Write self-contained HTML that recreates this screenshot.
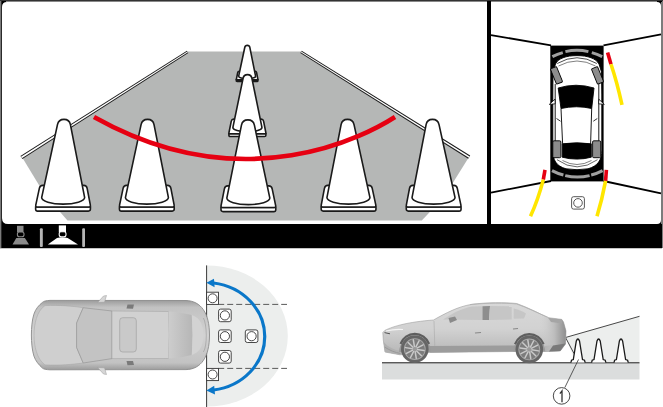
<!DOCTYPE html>
<html><head><meta charset="utf-8"><title>Rear parking camera</title>
<style>
html,body{margin:0;padding:0;background:#fff;width:663px;height:407px;overflow:hidden;font-family:"Liberation Sans",sans-serif}
svg{display:block;position:absolute;left:0;top:0}
</style></head><body>
<svg width="663" height="407" viewBox="0 0 663 407">
<defs>
  <g id="cone" fill="#fff" stroke="#1a1a1a" stroke-width="1.6">
    <path d="M-27.4,87.6 L27.4,87.6 L27.4,89.7 Q27.4,91.7 25.4,91.7 L-25.4,91.7 Q-27.4,91.7 -27.4,89.7 Z" vector-effect="non-scaling-stroke"/>
    <path d="M-20.5,66 L20.5,66 Q23.3,66 23.9,69 L27.3,85.8 Q27.6,87.6 25.6,87.6 L-25.6,87.6 Q-27.6,87.6 -27.3,85.8 L-23.9,69 Q-23.3,66 -20.5,66 Z" vector-effect="non-scaling-stroke"/>
    <path d="M-21.5,78.2 L-6.47,5.27 A6.6,6.6 0 0 1 6.47,5.27 L21.5,78.2 A21.5,6.5 0 0 1 -21.5,78.2 Z" vector-effect="non-scaling-stroke"/>
  </g>
  <g id="sqcone">
    <rect x="-6.3" y="-6.3" width="12.6" height="12.6" rx="2" fill="#fff" stroke="#333" stroke-width="0.9"/>
    <circle cx="0" cy="0" r="4.6" fill="#fff" stroke="#333" stroke-width="0.9"/>
  </g>
  <linearGradient id="carTop" x1="0" y1="0" x2="0" y2="1">
    <stop offset="0" stop-color="#9c9c9c"/>
    <stop offset="0.1" stop-color="#c2c2c2"/>
    <stop offset="0.5" stop-color="#d2d2d2"/>
    <stop offset="0.9" stop-color="#c2c2c2"/>
    <stop offset="1" stop-color="#9c9c9c"/>
  </linearGradient>
  <linearGradient id="rearWin" x1="0" y1="0" x2="1" y2="0">
    <stop offset="0" stop-color="#cdcdcd"/>
    <stop offset="1" stop-color="#b6b6b6"/>
  </linearGradient>
  <linearGradient id="rearShade" x1="0" y1="0" x2="1" y2="0">
    <stop offset="0" stop-color="#cfcfcf" stop-opacity="0"/>
    <stop offset="0.55" stop-color="#bdbdbd"/>
    <stop offset="1" stop-color="#8e8e8e"/>
  </linearGradient>
  <linearGradient id="carSide" x1="0" y1="0" x2="0" y2="1">
    <stop offset="0" stop-color="#d8d8d8"/>
    <stop offset="0.5" stop-color="#d2d2d2"/>
    <stop offset="1" stop-color="#b5b5b5"/>
  </linearGradient>
</defs>

<!-- ===== TOP MONITOR FRAME ===== -->
<rect x="0" y="0" width="662" height="248" fill="#000"/>
<rect x="0" y="248" width="662" height="1" fill="#c4c4c4"/>
<rect x="662" y="0" width="1" height="248" fill="#7c7c7c"/>
<rect x="661" y="2" width="1" height="222" fill="#7c7c7c"/>
<rect x="0" y="0" width="1" height="248" fill="#7a7a7a"/>
<rect x="1" y="1" width="1" height="247" fill="#2a2a2a"/>
<rect x="0" y="0" width="663" height="1" fill="#333"/>
<rect x="6" y="1" width="481" height="1" fill="#888"/>
<rect x="491" y="1" width="166" height="1" fill="#888"/>
<!-- left camera view -->
<path d="M2,7 Q2,2 7,2 L487,2 L487,224 L8,224 Q2,224 2,218 Z" fill="#fff"/>
<!-- right top view -->
<path d="M491,2 L657,2 Q661,2 661,6 L661,220 Q661,224 657,224 L491,224 Z" fill="#fff"/>

<!-- road -->
<polygon points="188.2,51.4 300.6,51.4 468.7,157.4 444,197 421.8,220.4 67.5,220.4 44.4,193.9 22.4,157.8" fill="#b5b7b6"/>
<!-- curbs -->
<polygon points="186.88,50.76 20.41,155.94 22.39,159.06 188.32,53.04" fill="#1c1c1c"/>
<polygon points="187.33,51.48 20.97,156.82 21.83,158.18 187.87,52.32" fill="#fff"/>
<polygon points="300.28,53.04 468.22,158.67 470.18,155.53 301.72,50.76" fill="#1c1c1c"/>
<polygon points="300.73,52.32 468.78,157.78 469.62,156.42 301.27,51.48" fill="#fff"/>

<!-- cones: back to front -->
<use href="#cone" transform="matrix(0.393,0,-0.0022,0.393,247.3,45.4)"/>
<use href="#cone" transform="matrix(0.675,0,-0.0011,0.675,247.5,74.6)"/>
<use href="#cone" transform="matrix(1.0,0,-0.0109,1.0,64.0,119.4)"/>
<use href="#cone" transform="matrix(1.0,0,-0.0087,1.0,147.6,119.4)"/>
<use href="#cone" transform="matrix(1.0,0,0.0055,1.0,247.9,119.9)"/>
<use href="#cone" transform="matrix(1.0,0,0.0120,1.0,347.5,119.4)"/>
<use href="#cone" transform="matrix(1.0,0,0.0131,1.0,432.5,119.4)"/>

<!-- red guide arc -->
<path d="M94,117 C245.8,202.2 368.6,134 395,117" fill="none" stroke="#e60012" stroke-width="4.6"/>

<!-- bottom bar icons -->
<g>
  <rect x="17" y="225.8" width="6.5" height="6.6" fill="#8a8a8a"/>
  <rect x="17.4" y="232" width="6.6" height="4.8" rx="2" fill="#000" stroke="#8a8a8a" stroke-width="1.1"/>
  <polygon points="16.3,238 24.9,238 29,244.6 12.5,244.6" fill="#8a8a8a"/>
  <rect x="39.9" y="228.3" width="2.9" height="18.8" rx="1" fill="#b5b5b5"/>
  <rect x="58.8" y="225.4" width="7.2" height="6.9" fill="#fff"/>
  <rect x="59.2" y="231.8" width="6.8" height="4.9" rx="2" fill="#000" stroke="#fff" stroke-width="1.1"/>
  <path d="M57,238 Q62.3,236.5 67.7,238 L78,244.6 L47.8,244.6 Z" fill="#fff"/>
  <rect x="82.2" y="228.2" width="2.8" height="18.9" rx="1" fill="#b5b5b5"/>
</g>

<!-- right panel: top view -->
<g stroke="#000" stroke-width="1.8" fill="none">
  <line x1="491" y1="35.1" x2="551" y2="45.3"/>
  <line x1="603.5" y1="45.3" x2="661" y2="34.4"/>
  <line x1="551" y1="181" x2="491" y2="192.6"/>
  <line x1="603.5" y1="181" x2="661" y2="193.4"/>
</g>
<rect x="550.3" y="45.6" width="53.3" height="135.8" fill="#000"/>
<!-- sensor arcs -->
<g fill="none" stroke="#a0a0a0" stroke-width="3">
  <path d="M552.4,56.6 A50,50 0 0 1 562.8,52.6"/>
  <path d="M565.4,51.6 A50,50 0 0 1 588.4,51.6"/>
  <path d="M591.8,52.6 A50,50 0 0 1 602.2,56.6"/>
  <path d="M552,170.6 A52,52 0 0 0 563.4,175"/>
  <path d="M565.2,175.6 A52,52 0 0 0 589.6,175.6"/>
  <path d="M591.2,175 A52,52 0 0 0 602.6,170.6"/>
</g>
<!-- car top view (white) -->
<g stroke="#000" stroke-width="0.9">
  <path d="M577,55.6 C566,55.6 558,58.5 555.5,64 L553,72 L552.8,95 L552.8,150 C552.8,160 556,166 566,168.8 Q577,170.6 588,168.8 C598,166 601.8,160 601.8,150 L601.8,95 L601.5,72 L599,64 C596,58.5 588,55.6 577,55.6 Z" fill="#fff"/>
  <path d="M557.2,63.5 Q577,52 596.8,63.5" fill="none" stroke-width="0.7"/>
  <path d="M558.5,66 Q577,56 595.5,66" fill="none" stroke-width="0.5"/>
  <!-- windshield -->
  <path d="M558.2,88 Q576,82.5 594,88 L591.7,108.5 Q576.5,105 561,108.5 Z" fill="#000"/>
  <!-- rear window -->
  <path d="M562.2,143.8 Q577,141.8 591.3,143.8 L591.3,157.2 Q577,161 562.2,157.2 Z" fill="#000"/>
  <!-- pillar lines -->
  <path d="M561,108.5 L562.6,143.8 M591.7,108.5 L590.6,143.8" fill="none" stroke-width="0.9"/>
  <path d="M555.2,84 L555.2,141 M598.8,84 L598.8,141" fill="none" stroke-width="0.9"/>
  <path d="M557,159.7 Q577,174 597.5,159.7" fill="none" stroke-width="0.6"/>
  <path d="M562.5,160.5 Q577,168.5 591.5,160.5" fill="none" stroke-width="0.5"/>
  <path d="M556.5,118.5 L560.5,121.2 M597.3,118.5 L593.3,121.2" fill="none" stroke-width="0.8"/>
  <!-- mirrors -->
  <path d="M555,99.2 L549.3,104.4 L555.2,103.8 Z" fill="#fff" stroke-width="0.8"/>
  <path d="M598.8,99.2 L604.3,104.4 L598.6,103.8 Z" fill="#fff" stroke-width="0.8"/>
  <!-- wheels -->
  <rect x="-3.3" y="-8.3" width="6.6" height="16.6" rx="1" fill="#8c8c8c" transform="translate(556.5,75.4) rotate(-22)"/>
  <rect x="-3.3" y="-8.3" width="6.6" height="16.6" rx="1" fill="#8c8c8c" transform="translate(597.5,75.4) rotate(-22)"/>
  <rect x="552.8" y="140.8" width="8.1" height="16.9" rx="1.2" fill="#8c8c8c"/>
  <rect x="592.6" y="140.8" width="8.1" height="16.9" rx="1.2" fill="#8c8c8c"/>
</g>
<!-- guide lines -->
<g fill="none" stroke-width="3.6" stroke-linecap="butt">
  <path d="M607.6,52.4 L611,64.2" stroke="#e60012"/>
  <path d="M611,64.2 Q617,82 622,104.9" stroke="#ffe600"/>
  <path d="M545,169.9 L543.3,179.6" stroke="#e60012"/>
  <path d="M543.3,179.6 Q538,200 530.5,216.2" stroke="#ffe600"/>
  <path d="M606.4,169.9 L605.6,180.9" stroke="#e60012"/>
  <path d="M605.6,180.9 Q602,200 597,216.2" stroke="#ffe600"/>
</g>
<rect x="571.6" y="196.7" width="12.8" height="12.4" rx="2" fill="#fff" stroke="#444" stroke-width="0.9"/>
<circle cx="578" cy="202.9" r="4.3" fill="#fff" stroke="#444" stroke-width="0.9"/>

<!-- ===== BOTTOM LEFT DIAGRAM ===== -->
<path d="M206.6,265.4 A81.2,70.6 0 0 1 206.6,406.6 Z" fill="#eceeed"/>
<line x1="206.6" y1="265.4" x2="206.6" y2="407" stroke="#3a3a3a" stroke-width="1"/>
<g stroke="#5a5a5a" stroke-width="1" stroke-dasharray="6 3">
  <line x1="218.2" y1="304.4" x2="287" y2="304.4"/>
  <line x1="218.2" y1="368.4" x2="287" y2="368.4"/>
</g>
<g fill="#fff" stroke="#333" stroke-width="0.9">
  <rect x="206.6" y="292.2" width="11.9" height="12.2"/>
  <circle cx="212.6" cy="298.3" r="4.5"/>
  <rect x="206.6" y="368.4" width="11.9" height="12.2"/>
  <circle cx="212.6" cy="374.5" r="4.5"/>
</g>
<use href="#sqcone" transform="translate(224.9,315.4)"/>
<use href="#sqcone" transform="translate(224.9,336.2)"/>
<use href="#sqcone" transform="translate(251.6,336.2)"/>
<use href="#sqcone" transform="translate(224.9,356.8)"/>
<!-- blue arc -->
<path d="M213.5,283 A59.3,54 0 0 1 213.5,390" fill="none" stroke="#0a77c9" stroke-width="3.2"/>
<polygon points="206.4,282.7 214,278.8 214.6,287.2" fill="#0a77c9"/>
<polygon points="206.4,390.4 214.2,385.8 215,394.4" fill="#0a77c9"/>

<!-- top-view car (grey) -->
<g>
  <path d="M50,300.4 L186,300.5 C201,301 209.5,313 209.5,335 C209.5,357 201,369.3 186,369.6 L50,369.8 C46,369.7 43.5,369 42.7,368.3 C39,365 35.5,361 33.9,356 C32,350 31.4,342 31.4,335 C31.4,328 32,320 33.9,314.2 C35.5,309 39,305 42.7,302.2 C43.5,301.3 46,300.5 50,300.4 Z" fill="url(#carTop)" stroke="#8a8a8a" stroke-width="0.9"/>
  <!-- hood -->
  <path d="M45,305.6 C60,305 72,306 83.2,307.7 L76.6,323 L76.6,347.5 L83.2,363 C72,364.5 60,365.5 45,364.9 C36.5,359 34,345 34,335.2 C34,325 36.5,311 45,305.6 Z" fill="#cfcfcf" stroke="#a3a3a3" stroke-width="0.5"/>
  <!-- windshield -->
  <path d="M83.2,307.7 L112,311 L112,358.6 L83.2,363 L76.6,347.5 L76.6,323 Z" fill="#c3c3c3" stroke="#8e8e8e" stroke-width="0.6"/>
  <!-- roof -->
  <path d="M112,311 L168.5,311.5 Q170,335 168.5,358.5 L112,358.6 Z" fill="#d1d1d1" stroke="#a0a0a0" stroke-width="0.5"/>
  <rect x="119.7" y="317.7" width="16.6" height="34.3" rx="3" fill="#c9c9c9" stroke="#9a9a9a" stroke-width="0.6"/>
  <!-- rear window -->
  <path d="M168.5,311.5 C178,312 186,313.5 191.8,315 Q193.5,335 191.8,355 C186,356.5 178,358 168.5,358.5 Q170,335 168.5,311.5 Z" fill="url(#rearWin)"/>
  <!-- trunk -->
  <path d="M191.8,315 C198,317 203.4,322 203.4,335 C203.4,348 198,353 191.8,355 Q193.5,335 191.8,315 Z" fill="#d3d3d3"/>
  <path d="M203.4,318 C207,324 207.5,346 203.4,352" fill="none" stroke="#999" stroke-width="0.6"/>
  <!-- pillar shadows -->
  <path d="M127.5,304.4 L134,304.6 L133,308.8 L126.5,308.6 Z" fill="#7a7a7a"/>
  <path d="M127.5,365.3 L134,365.1 L133,360.9 L126.5,361.1 Z" fill="#7a7a7a"/>
  <!-- mirrors -->
  <path d="M97.6,302.5 L103.5,296 L106.5,295.5 L104.5,302.2 Z" fill="#d6d6d6" stroke="#9a9a9a" stroke-width="0.5"/>
  <path d="M97.6,367.5 L103.5,374 L106.5,374.5 L104.5,367.8 Z" fill="#d6d6d6" stroke="#9a9a9a" stroke-width="0.5"/>
</g>

<!-- ===== BOTTOM RIGHT SIDE VIEW ===== -->
<polygon points="565.5,337.5 639.5,316.3 639.5,362.5 576,362.5" fill="#eceeed"/>
<rect x="382" y="363.5" width="257.5" height="16" fill="#dbdddd"/>
<line x1="382" y1="362.8" x2="639.5" y2="362.8" stroke="#5a5a5a" stroke-width="1.5"/>
<line x1="565.5" y1="337.5" x2="639.5" y2="316.3" stroke="#333" stroke-width="0.9"/>
<line x1="565.5" y1="337.5" x2="574" y2="353.5" stroke="#333" stroke-width="0.9"/>
<!-- side cones -->
<g fill="#fff" stroke="#1a1a1a" stroke-width="1.3">
  <path d="M570.9,362.6 L571.5,360.2 L573.3,359.6 L576.3,341 Q577.9,337 579.5,341 L582.5,359.6 L584.5,360.2 L585.2,362.6"/>
  <path d="M591.6,362.6 L592.2,360.2 L594,359.6 L597,341 Q598.6,337 600.2,341 L603.2,359.6 L605.2,360.2 L605.9,362.6"/>
  <path d="M614,362.6 L614.6,360.2 L616.4,359.6 L619.4,341 Q621,337 622.6,341 L625.6,359.6 L627.6,360.2 L628.3,362.6"/>
</g>
<!-- callout -->
<line x1="564.8" y1="387.6" x2="578.5" y2="359.5" stroke="#333" stroke-width="0.8"/>
<circle cx="561.6" cy="395.9" r="8.3" fill="#fff" stroke="#333" stroke-width="0.9"/>
<path d="M559.9,393.6 L562,390.9 L562,402.2" fill="none" stroke="#333" stroke-width="1.3" stroke-linejoin="miter"/>

<!-- side-view car -->
<g>
  <!-- body -->
  <path d="M385,352 L383.3,340 L382.8,332.5 L385,330.3 C394,326 408,322 433.5,320 C446,313 458,306.5 472,304.3 C487,302.3 505,302.3 516.7,303.5 C528,307.5 538,313 548.5,317.7 L561.8,319.4 L563.5,322 L566,331 L565.5,344 L560.2,351 L545,351.5 L513,351.5 L430,352.5 L400,354.8 Z" fill="url(#carSide)" stroke="#a0a0a0" stroke-width="0.6"/>
  <!-- lower body darker -->
  <path d="M430,346 L515,345.5 L515,351.5 L430,352.5 Z" fill="#9c9c9c"/>
  <path d="M383.5,342 C388,347 394,350 401,351 L400,354.8 L385,352 Z" fill="#b0b0b0"/>
  <path d="M545,346 L560.5,344 L565.5,344 L560.2,351 L545,351.5 Z" fill="#a8a8a8"/>
  <!-- windows -->
  <path d="M443,319.5 C453,313 462,308.5 472,306.5 L482.5,306.3 L482.5,320 Z" fill="#c6c6c6"/>
  <path d="M482.5,306.3 L490,306 L489,320 L482.5,320 Z" fill="#8e8e8e"/>
  <path d="M490,306 L511.7,306.2 L511.7,319.4 L489,320 Z" fill="#c6c6c6"/>
  <path d="M513.7,308.5 C519,309.5 523,311.5 526,313.5 L524,318.5 L513.7,318.8 Z" fill="#c6c6c6"/>
  <path d="M470,304.6 C487,302.8 505,302.8 516.7,304 C528,308 538,313 548.5,317.7" fill="none" stroke="#b0b0b0" stroke-width="0.8"/>
  <!-- mirror -->
  <path d="M448.5,318 L455,316.4 L457,320 L450,323 Z" fill="#8a8a8a"/>
  <!-- rear quarter shading -->
  <path d="M540,315.5 L548.5,317.7 L561.8,319.4 L563.5,322 L566,331 L565.5,344 L560.2,351 L545,351.5 L540,351.5 Z" fill="url(#rearShade)"/>
  <path d="M553,345.5 L565.5,343.5 L560.2,351 L549,351.5 Z" fill="#7a7a7a"/>
  <path d="M384.5,332.6 L390,333.8" stroke="#555" stroke-width="1" fill="none"/>
  <path d="M384.5,347 C390,350.5 395,352.5 400.5,353.5" stroke="#999" stroke-width="1" fill="none"/>
  <!-- spoiler / tail -->
  <path d="M548,317.7 L561.8,319.4 L562,323.5 L551,322 Z" fill="#a5a5a5"/>
  <!-- wheel arches -->
  <path d="M399.1,352 A15.9,15.9 0 0 1 430.9,352 Z" fill="#9a9a9a"/>
  <path d="M513.4,351.5 A15.9,15.9 0 0 1 545.2,351.5 Z" fill="#9a9a9a"/>
  <path d="M400.52,343.90 A15.2,15.2 0 0 1 429.08,343.90" fill="none" stroke="#5e5e5e" stroke-width="2.2"/>
  <path d="M515.02,344.20 A15.2,15.2 0 0 1 543.58,344.20" fill="none" stroke="#5e5e5e" stroke-width="2.2"/>
  <!-- wheels -->
  <g>
    <circle cx="414.8" cy="349.1" r="13.8" fill="#656565"/>
    <circle cx="414.8" cy="349.1" r="10.9" fill="#a9a9a9"/>
    <circle cx="414.8" cy="349.1" r="10.0" fill="#7c7c7c"/>
    <g stroke="#c9c9c9" stroke-width="1.5" stroke-linecap="round">
      <line x1="416.97" y1="349.44" x2="424.08" y2="350.57"/>
      <line x1="416.36" y1="350.66" x2="421.45" y2="355.75"/>
      <line x1="415.14" y1="351.27" x2="416.27" y2="358.38"/>
      <line x1="413.80" y1="351.06" x2="410.53" y2="357.48"/>
      <line x1="412.84" y1="350.10" x2="406.42" y2="353.37"/>
      <line x1="412.63" y1="348.76" x2="405.52" y2="347.63"/>
      <line x1="413.24" y1="347.54" x2="408.15" y2="342.45"/>
      <line x1="414.46" y1="346.93" x2="413.33" y2="339.82"/>
      <line x1="415.80" y1="347.14" x2="419.07" y2="340.72"/>
      <line x1="416.76" y1="348.10" x2="423.18" y2="344.83"/>
    </g>
    <circle cx="414.8" cy="349.1" r="2.2" fill="#9a9a9a"/>
  </g>
  <g>
    <circle cx="529.3" cy="349.4" r="13.8" fill="#656565"/>
    <circle cx="529.3" cy="349.4" r="10.9" fill="#a9a9a9"/>
    <circle cx="529.3" cy="349.4" r="10.0" fill="#7c7c7c"/>
    <g stroke="#c9c9c9" stroke-width="1.5" stroke-linecap="round">
      <line x1="531.47" y1="349.74" x2="538.58" y2="350.87"/>
      <line x1="530.86" y1="350.96" x2="535.95" y2="356.05"/>
      <line x1="529.64" y1="351.57" x2="530.77" y2="358.68"/>
      <line x1="528.30" y1="351.36" x2="525.03" y2="357.78"/>
      <line x1="527.34" y1="350.40" x2="520.92" y2="353.67"/>
      <line x1="527.13" y1="349.06" x2="520.02" y2="347.93"/>
      <line x1="527.74" y1="347.84" x2="522.65" y2="342.75"/>
      <line x1="528.96" y1="347.23" x2="527.83" y2="340.12"/>
      <line x1="530.30" y1="347.44" x2="533.57" y2="341.02"/>
      <line x1="531.26" y1="348.40" x2="537.68" y2="345.13"/>
    </g>
    <circle cx="529.3" cy="349.4" r="2.2" fill="#9a9a9a"/>
  </g>
  <!-- door lines / handles -->
  <path d="M434,321 L434.8,346" stroke="#aaa" stroke-width="0.6" fill="none"/>
  <path d="M475,333 L481,332.5" stroke="#888" stroke-width="1.2"/>
  <path d="M513,329 L518,328.5" stroke="#888" stroke-width="1.2"/>
  <path d="M386,331 C392,329.5 398,329 403,329.5" stroke="#f4f4f4" stroke-width="1.2" fill="none"/>
</g>
</svg>
</body></html>
